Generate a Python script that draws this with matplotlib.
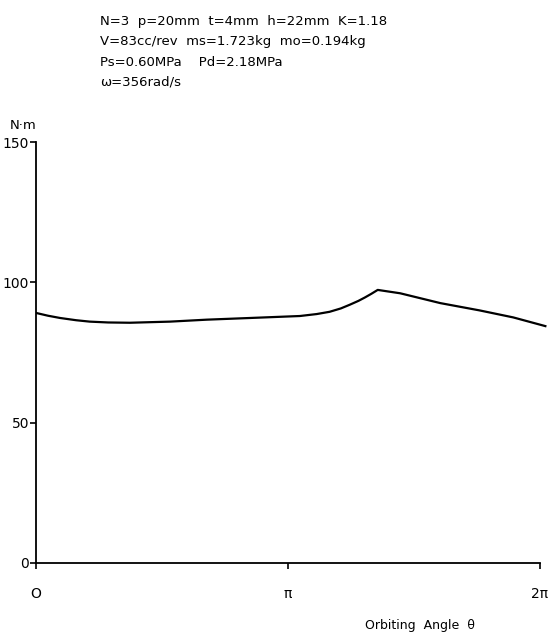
import numpy as np
import matplotlib
matplotlib.use('Agg')
from matplotlib import pyplot as plt

# torque curve (angle in rad, torque in N·m)
theta = [0.0, 0.15, 0.30, 0.50, 0.67, 0.90, 1.17, 1.67, 2.13, 2.67, 3.29, 3.50,
         3.66, 3.80, 3.91, 4.02, 4.10, 4.18, 4.26, 4.54, 5.04, 5.53, 5.95, 6.35]
torque = [89.1, 88.1, 87.3, 86.5, 86.0, 85.7, 85.6, 86.0, 86.7, 87.3, 88.0, 88.7,
          89.5, 90.7, 92.0, 93.4, 94.6, 95.9, 97.3, 96.1, 92.6, 90.0, 87.5, 84.4]

header = ["N=3  p=20mm  t=4mm  h=22mm  K=1.18",
          "V=83cc/rev  ms=1.723kg  mo=0.194kg",
          "Ps=0.60MPa    Pd=2.18MPa",
          "\u03c9=356rad/s"]

yticks = [0, 50, 100, 150]
xticks = [0, np.pi, 2 * np.pi]
xticklabels = ["O", "\u03c0", "2\u03c0"]

plt.rcParams['font.family'] = ['DejaVu Sans']

fig = plt.figure(figsize=(5.49, 6.37), dpi=100)
ax = fig.add_axes([36 / 549, 74 / 637, 513 / 549, 421 / 637])

ax.plot(theta, torque, color='black', lw=1.6)

ax.set_xlim(0, 2 * np.pi * 513 / 504)
ax.set_ylim(0, 150)
ax.spines['top'].set_visible(False)
ax.spines['right'].set_visible(False)
ax.spines['bottom'].set_bounds(0, 2 * np.pi)
ax.spines['left'].set_linewidth(1.3)
ax.spines['bottom'].set_linewidth(1.3)

ax.set_yticks(yticks)
ax.set_yticklabels([str(v) for v in yticks], fontsize=10)
ax.set_xticks(xticks)
ax.set_xticklabels(xticklabels, fontsize=10)
ax.tick_params(axis='both', direction='out', length=4, width=1.2)
ax.tick_params(axis='x', pad=13)
ax.tick_params(axis='y', pad=1)

fig.text(10 / 549, 1 - 125 / 637, "N\u00b7m", fontsize=9.5, va='center', ha='left')
fig.text(475 / 549, 1 - 625 / 637, "Orbiting  Angle  \u03b8", fontsize=9, va='center', ha='right')

for i, line in enumerate(header):
    fig.text(100 / 549, 1 - (22 + 20 * i) / 637, line, fontsize=9.5, va='center', ha='left')

fig.savefig('out.png', dpi=100)
